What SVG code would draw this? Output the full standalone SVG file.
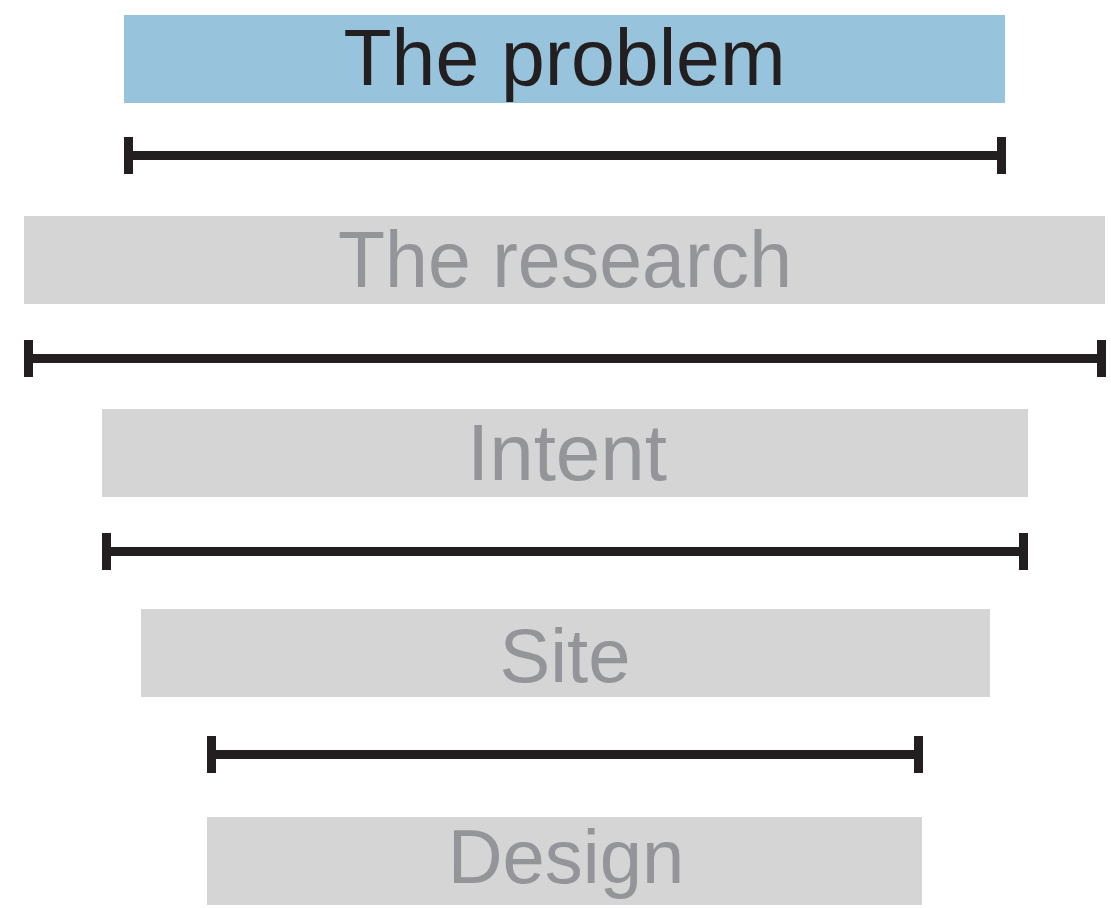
<svg xmlns="http://www.w3.org/2000/svg" width="1111" height="908" viewBox="0 0 1111 908">
<style>
.box{fill:#d5d5d5}
.active{fill:#97c4dc}
.lbl{font-family:"Liberation Sans",Arial,sans-serif;font-size:80px;text-anchor:middle;fill:#939598}
.lbl.dark{fill:#231f20}
.bar{fill:#231f20}
</style>
<rect width="1111" height="908" fill="#ffffff"/>
<g id="node-problem">
<rect class="active" x="124" y="15" width="881" height="88"/>
<text class="lbl dark" x="564.5" y="85" textLength="442" lengthAdjust="spacingAndGlyphs">The problem</text>
</g>
<g id="node-research">
<rect class="box" x="24" y="216" width="1081" height="88"/>
<text class="lbl" x="565" y="287" textLength="454" lengthAdjust="spacingAndGlyphs">The research</text>
</g>
<g id="node-intent">
<rect class="box" x="102" y="409" width="926" height="88"/>
<text class="lbl" x="567" y="480">Intent</text>
</g>
<g id="node-site">
<rect class="box" x="141" y="609" width="849" height="88"/>
<text class="lbl" x="565" y="682" style="font-size:76px">Site</text>
</g>
<g id="node-design">
<rect class="box" x="207" y="817" width="715" height="88"/>
<text class="lbl" x="566" y="883" style="font-size:76px">Design</text>
</g>
<g id="connectors">
<g class="bar">
<rect x="124" y="151" width="882" height="9"/>
<rect x="124" y="137" width="9" height="37"/>
<rect x="997" y="137" width="9" height="37"/>
</g>
<g class="bar">
<rect x="24" y="354" width="1082" height="9"/>
<rect x="24" y="340" width="9" height="37"/>
<rect x="1097" y="340" width="9" height="37"/>
</g>
<g class="bar">
<rect x="102" y="547" width="926" height="9"/>
<rect x="102" y="533" width="9" height="37"/>
<rect x="1019" y="533" width="9" height="37"/>
</g>
<g class="bar">
<rect x="207" y="750" width="716" height="9"/>
<rect x="207" y="736" width="9" height="37"/>
<rect x="914" y="736" width="9" height="37"/>
</g>
</g>
</svg>
